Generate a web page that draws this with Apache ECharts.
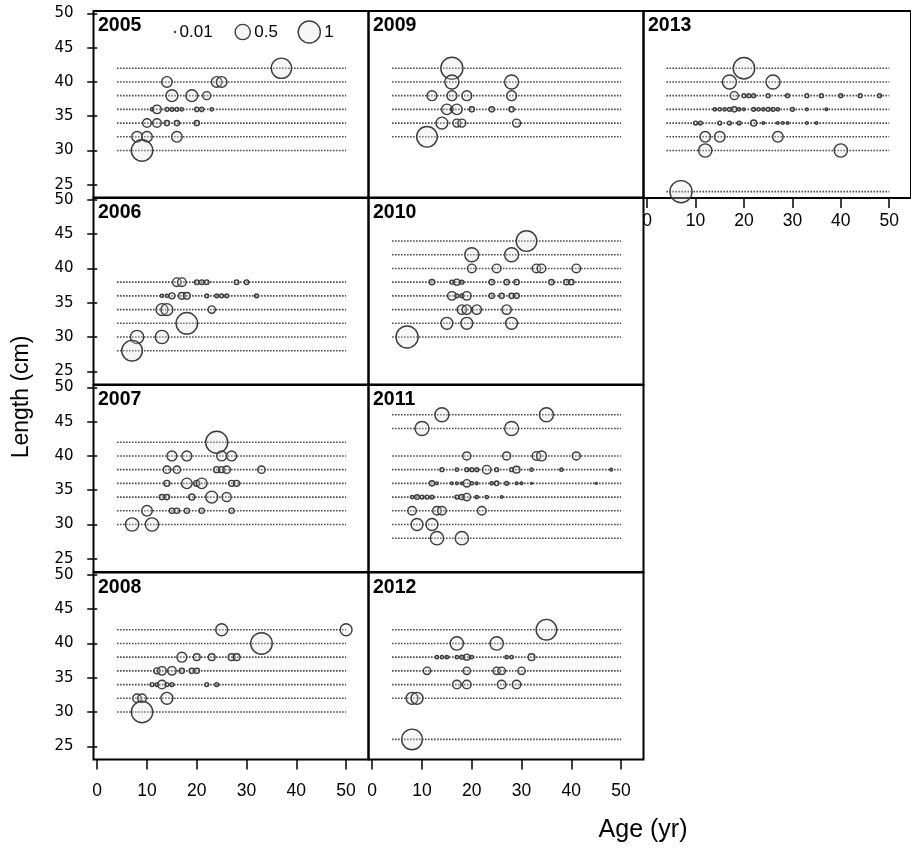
<!DOCTYPE html>
<html><head><meta charset="utf-8">
<script src="https://cdn.jsdelivr.net/npm/echarts@6/dist/echarts.min.js"></script>
<style>html,body{margin:0;padding:0;background:#fff}#c{width:911px;height:850px}</style>
</head><body><div id="c"></div>
<script>
// ---------- data ----------
const xTicks = [0, 10, 20, 30, 40, 50];
const yTicks = [25, 30, 35, 40, 45, 50];
const legendValues = [0.01, 0.5, 1];
const lineAgeRange = [4, 50];
// [age, length, proportion]
const d2005 = [[37,42,0.85],
 [14,40,0.26],[24,40,0.26],[25,40,0.26],
 [15,38,0.32],[19,38,0.32],[22,38,0.16],
 [11,36,0.04],[12,36,0.18],[14,36,0.05],[15,36,0.05],[16,36,0.05],[17,36,0.04],[20,36,0.06],[21,36,0.06],[23,36,0.04],
 [10,34,0.18],[12,34,0.18],[14,34,0.08],[16,34,0.08],[20,34,0.08],
 [8,32,0.26],[10,32,0.26],[16,32,0.26],
 [9,30,0.95]];
const d2006 = [[16,38,0.18],[17,38,0.18],[20,38,0.065],[21,38,0.065],[22,38,0.065],[28,38,0.065],[30,38,0.065],
 [13,36,0.04],[14,36,0.04],[15,36,0.1],[17,36,0.12],[18,36,0.12],[22,36,0.05],[24,36,0.05],[25,36,0.05],[26,36,0.05],[32,36,0.05],
 [13,34,0.32],[14,34,0.32],[23,34,0.14],
 [18,32,0.95],
 [8,30,0.39],[13,30,0.39],
 [7,28,0.88]];
const d2007 = [[24,42,1.0],
 [15,40,0.23],[18,40,0.23],[25,40,0.23],[27,40,0.23],
 [14,38,0.14],[16,38,0.14],[24,38,0.1],[25,38,0.1],[26,38,0.14],[33,38,0.14],
 [14,36,0.1],[18,36,0.26],[20,36,0.1],[21,36,0.26],[27,36,0.1],[28,36,0.1],
 [13,34,0.08],[14,34,0.08],[19,34,0.1],[23,34,0.32],[26,34,0.2],
 [10,32,0.26],[15,32,0.08],[16,32,0.08],[18,32,0.08],[21,32,0.08],[27,32,0.08],
 [7,30,0.39],[11,30,0.39]];
const d2008 = [[25,42,0.32],[50,42,0.32],
 [33,40,0.95],
 [17,38,0.23],[20,38,0.12],[23,38,0.12],[27,38,0.12],[28,38,0.12],
 [12,36,0.1],[13,36,0.18],[15,36,0.18],[17,36,0.08],[19,36,0.08],[20,36,0.08],
 [11,34,0.05],[12,34,0.05],[13,34,0.18],[14,34,0.05],[15,34,0.05],[22,34,0.05],[24,34,0.05],
 [8,32,0.18],[9,32,0.18],[14,32,0.32],
 [9,30,0.95]];
const d2009 = [[16,42,1.0],
 [16,40,0.43],[28,40,0.43],
 [12,38,0.23],[16,38,0.23],[19,38,0.23],[28,38,0.23],
 [15,36,0.26],[16,36,0.04],[17,36,0.26],[20,36,0.08],[24,36,0.08],[28,36,0.08],
 [14,34,0.32],[17,34,0.16],[18,34,0.16],[29,34,0.16],
 [11,32,0.88]];
const d2010 = [[31,44,0.88],
 [20,42,0.43],[28,42,0.43],
 [20,40,0.18],[25,40,0.18],[33,40,0.18],[34,40,0.18],[41,40,0.18],
 [12,38,0.08],[16,38,0.05],[17,38,0.1],[18,38,0.05],[24,38,0.08],[27,38,0.08],[29,38,0.08],[36,38,0.08],[39,38,0.08],[40,38,0.08],
 [16,36,0.18],[17,36,0.05],[18,36,0.05],[19,36,0.18],[24,36,0.08],[26,36,0.08],[28,36,0.08],[29,36,0.08],
 [18,34,0.21],[19,34,0.21],[21,34,0.21],[27,34,0.21],
 [15,32,0.32],[19,32,0.32],[28,32,0.32],
 [7,30,1.0]];
const d2011 = [[14,46,0.43],[35,46,0.43],
 [10,44,0.43],[28,44,0.43],
 [19,40,0.16],[27,40,0.16],[33,40,0.18],[34,40,0.23],[41,40,0.16],
 [14,38,0.05],[17,38,0.04],[19,38,0.05],[20,38,0.05],[21,38,0.05],[23,38,0.18],[25,38,0.05],[28,38,0.05],[29,38,0.12],[32,38,0.04],[38,38,0.04],[48,38,0.03],
 [12,36,0.08],[13,36,0.03],[16,36,0.03],[17,36,0.03],[18,36,0.03],[19,36,0.14],[20,36,0.04],[21,36,0.03],[24,36,0.04],[25,36,0.065],[27,36,0.05],[29,36,0.03],[30,36,0.03],[32,36,0.02],[45,36,0.02],
 [8,34,0.04],[9,34,0.065],[10,34,0.05],[11,34,0.05],[12,34,0.05],[17,34,0.05],[18,34,0.08],[19,34,0.14],[21,34,0.04],[23,34,0.04],[26,34,0.03],
 [8,32,0.18],[13,32,0.18],[14,32,0.18],[22,32,0.18],
 [9,30,0.32],[12,30,0.32],
 [13,28,0.39],[18,28,0.39]];
const d2012 = [[35,42,0.88],
 [17,40,0.39],[25,40,0.39],
 [13,38,0.04],[14,38,0.04],[15,38,0.04],[17,38,0.04],[18,38,0.05],[19,38,0.1],[20,38,0.04],[27,38,0.04],[28,38,0.04],[32,38,0.12],
 [11,36,0.14],[19,36,0.14],[25,36,0.14],[26,36,0.14],[30,36,0.14],
 [17,34,0.18],[19,34,0.18],[26,34,0.18],[29,34,0.18],
 [8,32,0.32],[9,32,0.32],
 [8,26,0.88]];
const d2013 = [[20,42,0.95],
 [17,40,0.43],[26,40,0.43],
 [18,38,0.16],[20,38,0.05],[21,38,0.05],[22,38,0.05],[25,38,0.05],[29,38,0.05],[33,38,0.05],[36,38,0.05],[40,38,0.05],[44,38,0.05],[48,38,0.05],
 [14,36,0.04],[15,36,0.04],[16,36,0.04],[17,36,0.05],[18,36,0.08],[19,36,0.04],[20,36,0.03],[22,36,0.05],[23,36,0.04],[24,36,0.04],[25,36,0.05],[26,36,0.05],[27,36,0.04],[30,36,0.05],[33,36,0.03],[37,36,0.03],
 [10,34,0.05],[11,34,0.05],[15,34,0.05],[17,34,0.05],[19,34,0.05],[22,34,0.1],[24,34,0.03],[27,34,0.03],[28,34,0.03],[29,34,0.03],[33,34,0.03],[35,34,0.03],
 [12,32,0.26],[15,32,0.26],[27,32,0.26],
 [12,30,0.39],[40,30,0.39],
 [7,24,1.0]];

// ---------- layout ----------
const colLeft = [93.5, 368.5, 643.5];
const rowTop = [11, 197.5, 385, 572.5];
const panelW = 275, panelH = 187;
const xRange = [-0.75, 54.5];
const yRange = [23.07, 50.35];
const FONT = 'Liberation Sans, Arial, sans-serif';
const WIDEFONT = 'DejaVu Sans, sans-serif';
const STROKE = '#3c3c3c', FILL = 'rgba(225,225,225,0.3)', BW = 1.4;
const sizeOf = v => Math.max(1, 23.5 * Math.sqrt(v) - BW);

const panels = [
  {year:'2005', data:d2005, col:0, row:0, xLab:null, yLab:true},
  {year:'2006', data:d2006, col:0, row:1, xLab:null, yLab:true},
  {year:'2007', data:d2007, col:0, row:2, xLab:null, yLab:true},
  {year:'2008', data:d2008, col:0, row:3, xLab:22.5, yLab:true},
  {year:'2009', data:d2009, col:1, row:0, xLab:null, yLab:false},
  {year:'2010', data:d2010, col:1, row:1, xLab:null, yLab:false},
  {year:'2011', data:d2011, col:1, row:2, xLab:null, yLab:false},
  {year:'2012', data:d2012, col:1, row:3, xLab:22.5, yLab:false},
  {year:'2013', data:d2013, col:2, row:0, xLab:14, yLab:false}
];

const grid = [], xAxis = [], yAxis = [], series = [], graphic = [];
panels.forEach((p, i) => {
  const L = colLeft[p.col], T = rowTop[p.row];
  grid.push({left:L, top:T, width:panelW, height:panelH, show:true, borderColor:'#000', borderWidth:2, backgroundColor:'transparent', containLabel:false});
  xAxis.push({type:'value', gridIndex:i, min:xRange[0], max:xRange[1], show: p.xLab !== null,
    axisLine:{show:false},
    axisTick:{show:true, customValues:xTicks, length:10, lineStyle:{color:'#000', width:1.5}},
    axisLabel:{customValues:xTicks, margin: p.xLab || 8, fontSize:17.5, color:'#000', fontFamily:FONT},
    splitLine:{show:false}});
  yAxis.push({type:'value', gridIndex:i, min:yRange[0], max:yRange[1], show: p.yLab,
    axisLine:{show:false},
    axisTick:{show:true, customValues:yTicks, length:10, lineStyle:{color:'#000', width:1.5}},
    axisLabel:{customValues:yTicks, margin:20, fontSize:15, color:'#000', fontFamily:WIDEFONT},
    splitLine:{show:false}});
  const lens = [...new Set(p.data.map(d => d[1]))];
  lens.forEach(len => series.push({type:'line', xAxisIndex:i, yAxisIndex:i, silent:true, symbol:'none', z:1,
    data:[[lineAgeRange[0], len], [lineAgeRange[1], len]],
    lineStyle:{color:'#333', width:1.6, type:[1.4, 1.6]}}));
  series.push({type:'scatter', xAxisIndex:i, yAxisIndex:i, silent:true, z:3, data:p.data,
    symbolSize: v => sizeOf(v[2]),
    itemStyle:{color:FILL, borderColor:STROKE, borderWidth:BW, opacity:1}});
  graphic.push({type:'text', x:L + 4.5, y:T + 15, silent:true,
    style:{text:p.year, font:'bold 19.5px ' + FONT, fill:'#000', align:'left', verticalAlign:'middle'}});
});

// size key in 2005 panel
const keyX = [81.5, 149.2, 215.8], keyY = rowTop[0] + 21;
legendValues.forEach((v, k) => {
  const cx = colLeft[0] + keyX[k];
  const r = sizeOf(v) / 2;
  graphic.push({type:'circle', silent:true, shape:{cx:cx, cy:keyY, r:r}, style:{fill:FILL, stroke:STROKE, lineWidth:BW}});
  graphic.push({type:'text', silent:true, x:cx + r + 4, y:keyY,
    style:{text:String(v), font:'17px ' + FONT, fill:'#000', align:'left', verticalAlign:'middle'}});
});
graphic.push({type:'text', silent:true, x:22, y:397, rotation:Math.PI/2,
  style:{text:'Length (cm)', font:'23px ' + FONT, fill:'#000', align:'center', verticalAlign:'middle'}});
graphic.push({type:'text', silent:true, x:643, y:830,
  style:{text:'Age (yr)', font:'25px ' + FONT, fill:'#000', align:'center', verticalAlign:'middle'}});

const chart = echarts.init(document.getElementById('c'), null, {renderer:'canvas'});
chart.setOption({animation:false, backgroundColor:'#fff', grid, xAxis, yAxis, series, graphic});
</script>
</body></html>
